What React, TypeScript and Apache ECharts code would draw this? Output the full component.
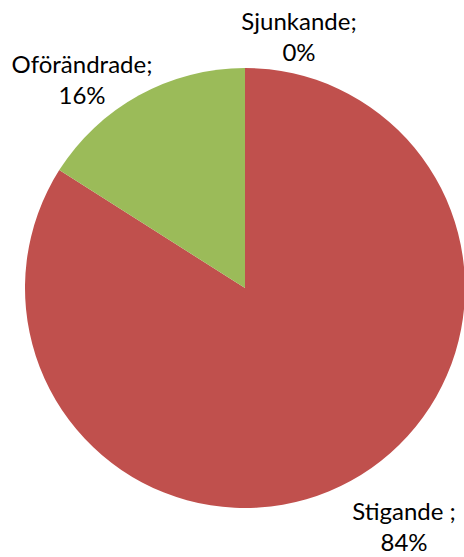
import React, { useEffect, useRef } from "react";
import * as echarts from "echarts";

const categories = ["Stigande ", "Oförändrade", "Sjunkande"];
const values = [84, 16, 0];
const colors = ["#C0504D", "#9BBB59", "#4F81BD"];
const labelPositions = [
  [404, 526],
  [82, 79],
  [299, 36],
];

export default function App() {
  const ref = useRef<HTMLDivElement>(null);
  useEffect(() => {
    if (!ref.current) return;
    const chart = echarts.init(ref.current, undefined, { renderer: "svg" });
    chart.setOption({
      animation: false,
      backgroundColor: "#ffffff",
      series: [
        {
          type: "pie",
          center: [245, 288],
          radius: [0, 220],
          startAngle: 90,
          clockwise: true,
          avoidLabelOverlap: false,
          minShowLabelAngle: 0,
          data: categories.map((name, i) => ({
            name,
            value: values[i],
            itemStyle: { color: colors[i] },
          })),
          itemStyle: { borderWidth: 0 },
          label: {
            show: true,
            position: "outside",
            formatter: "{b};\n{d}%",
            fontFamily: "Lato, 'Open Sans', sans-serif",
            fontSize: 24,
            lineHeight: 31,
            color: "#000000",
            align: "center",
          },
          labelLine: { show: false },
          labelLayout: (params: any) => {
            const p = labelPositions[params.dataIndex];
            return {
              x: p[0],
              y: p[1],
              align: "center",
              verticalAlign: "middle",
            };
          },
          emphasis: { disabled: true },
        },
      ],
    });
    return () => chart.dispose();
  }, []);
  return (
    <div
      ref={ref}
      style={{ position: "fixed", left: 0, top: 0, width: 464, height: 557 }}
    />
  );
}
